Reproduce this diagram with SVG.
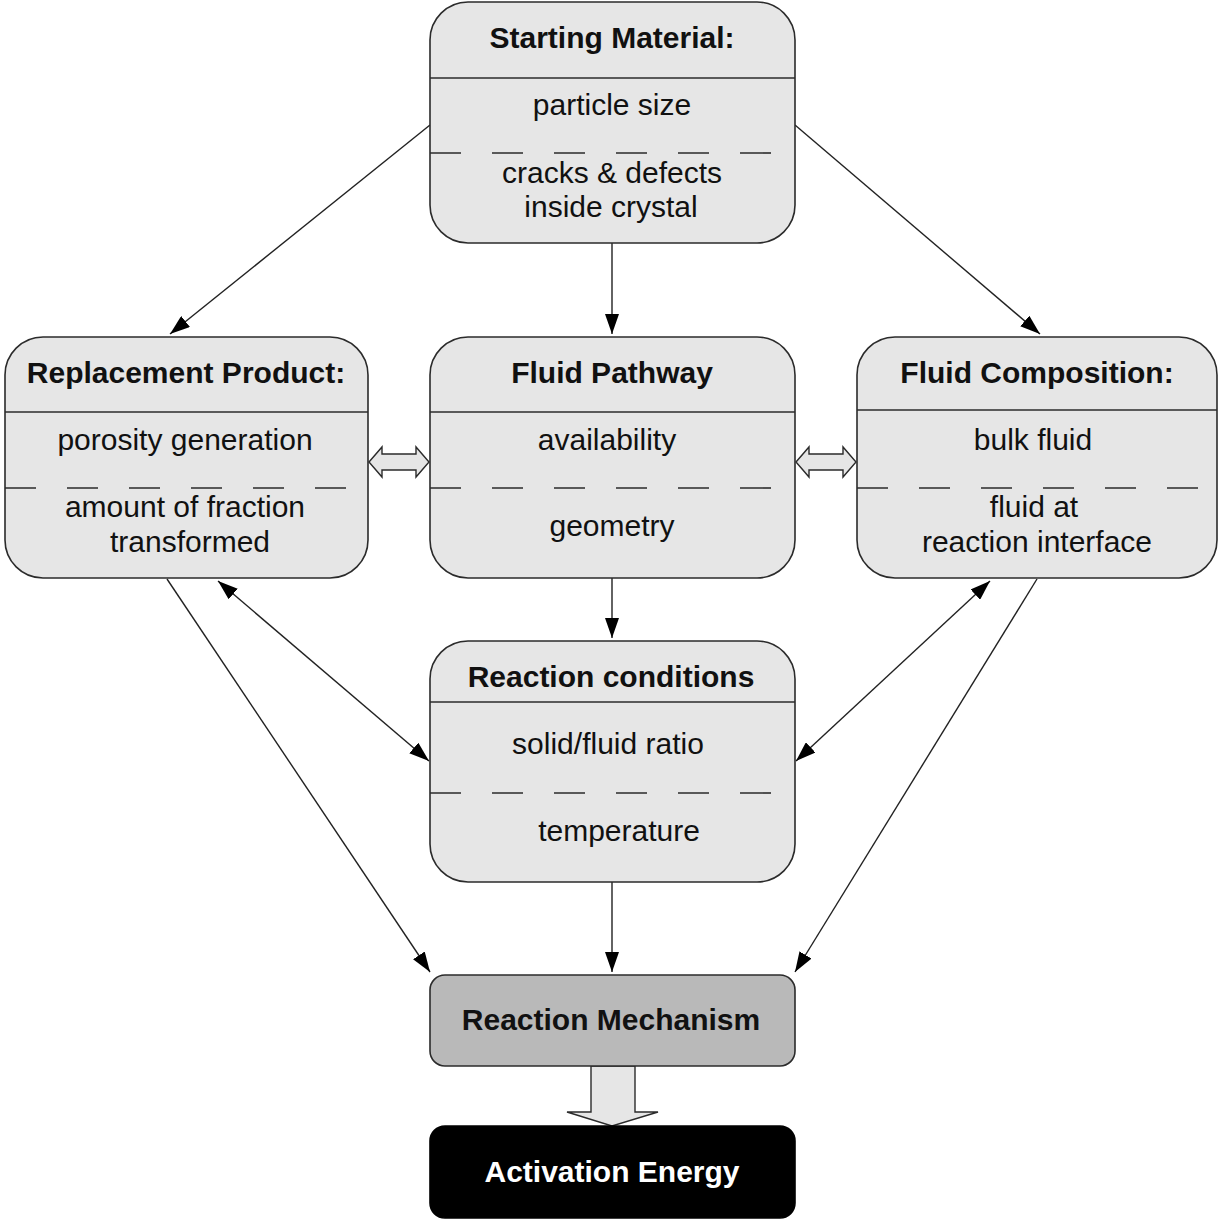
<svg xmlns="http://www.w3.org/2000/svg" width="1219" height="1219" viewBox="0 0 1219 1219">
<defs>
<style>
.box{fill:#e6e6e6;stroke:#2b2b2b;stroke-width:1.6}
.sep{stroke:#2b2b2b;stroke-width:1.6}
.dash{stroke:#2b2b2b;stroke-width:1.6;stroke-dasharray:31 31}
.t{font-family:"Liberation Sans",Arial,sans-serif;font-size:30px;fill:#111;text-anchor:middle}
.h{font-weight:bold}
.con{stroke:#222;stroke-width:1.4;fill:none}
.hollow{fill:#e6e6e6;stroke:#2b2b2b;stroke-width:1.4}
</style>
<marker id="ah" viewBox="0 0 20 14" refX="20" refY="7" markerWidth="20" markerHeight="14" markerUnits="userSpaceOnUse" orient="auto-start-reverse">
<path d="M0,0 L20,7 L0,14 Z" fill="#000"/>
</marker>
</defs>
<rect width="1219" height="1219" fill="#fff"/>

<g id="connectors">
<line class="con" x1="430" y1="125" x2="170" y2="334" marker-end="url(#ah)"/>
<line class="con" x1="795" y1="125" x2="1040" y2="334" marker-end="url(#ah)"/>
<line class="con" x1="612" y1="243" x2="612" y2="334" marker-end="url(#ah)"/>
<line class="con" x1="612" y1="578" x2="612" y2="638" marker-end="url(#ah)"/>
<line class="con" x1="612" y1="882" x2="612" y2="972" marker-end="url(#ah)"/>
<line class="con" x1="167" y1="579" x2="430" y2="972" marker-end="url(#ah)"/>
<line class="con" x1="1037" y1="579" x2="795" y2="972" marker-end="url(#ah)"/>
<line class="con" x1="218" y1="581" x2="429" y2="761" marker-start="url(#ah)" marker-end="url(#ah)"/>
<line class="con" x1="990" y1="581" x2="796" y2="761" marker-start="url(#ah)" marker-end="url(#ah)"/>
<path class="hollow" d="M369,462 L382,447 L382,454 L416,454 L416,447 L429,462 L416,477 L416,470 L382,470 L382,477 Z"/>
<path class="hollow" d="M796,462 L809,447 L809,454 L843,454 L843,447 L856,462 L843,477 L843,470 L809,470 L809,477 Z"/>
<path class="hollow" d="M591,1066 L635,1066 L635,1112 L658,1112 L612,1126 L567,1112 L591,1112 Z"/>
</g>

<g id="starting-material">
<rect class="box" x="430" y="2" width="365" height="241" rx="38"/>
<line class="sep" x1="430" y1="78" x2="795" y2="78"/>
<line class="dash" x1="430" y1="153" x2="795" y2="153"/>
<text class="t h" x="612" y="48">Starting Material:</text>
<text class="t" x="612" y="115">particle size</text>
<text class="t" x="612" y="183">cracks &amp; defects</text>
<text class="t" x="611" y="217">inside crystal</text>
</g>

<g id="replacement-product">
<rect class="box" x="5" y="337" width="363" height="241" rx="38"/>
<line class="sep" x1="5" y1="412" x2="368" y2="412"/>
<line class="dash" x1="5" y1="488" x2="368" y2="488"/>
<text class="t h" x="186" y="383">Replacement Product:</text>
<text class="t" x="185" y="450">porosity generation</text>
<text class="t" x="185" y="517">amount of fraction</text>
<text class="t" x="190" y="552">transformed</text>
</g>

<g id="fluid-pathway">
<rect class="box" x="430" y="337" width="365" height="241" rx="38"/>
<line class="sep" x1="430" y1="412" x2="795" y2="412"/>
<line class="dash" x1="430" y1="488" x2="795" y2="488"/>
<text class="t h" x="612" y="383">Fluid Pathway</text>
<text class="t" x="607" y="450">availability</text>
<text class="t" x="612" y="536">geometry</text>
</g>

<g id="fluid-composition">
<rect class="box" x="857" y="337" width="360" height="241" rx="38"/>
<line class="sep" x1="857" y1="410" x2="1217" y2="410"/>
<line class="dash" x1="857" y1="488" x2="1217" y2="488"/>
<text class="t h" x="1037" y="383">Fluid Composition:</text>
<text class="t" x="1033" y="450">bulk fluid</text>
<text class="t" x="1034" y="517">fluid at</text>
<text class="t" x="1037" y="552">reaction interface</text>
</g>

<g id="reaction-conditions">
<rect class="box" x="430" y="641" width="365" height="241" rx="38"/>
<line class="sep" x1="430" y1="702" x2="795" y2="702"/>
<line class="dash" x1="430" y1="793" x2="795" y2="793"/>
<text class="t h" x="611" y="687">Reaction conditions</text>
<text class="t" x="608" y="754">solid/fluid ratio</text>
<text class="t" x="619" y="841">temperature</text>
</g>

<g id="reaction-mechanism">
<rect x="430" y="975" width="365" height="91" rx="15" fill="#b9b9b9" stroke="#2b2b2b" stroke-width="1.6"/>
<text class="t h" x="611" y="1030">Reaction Mechanism</text>
</g>

<g id="activation-energy">
<rect x="430" y="1126" width="365" height="92" rx="15" fill="#000" stroke="#000" stroke-width="1.6"/>
<text class="t h" x="612" y="1182" style="fill:#fff">Activation Energy</text>
</g>
</svg>
